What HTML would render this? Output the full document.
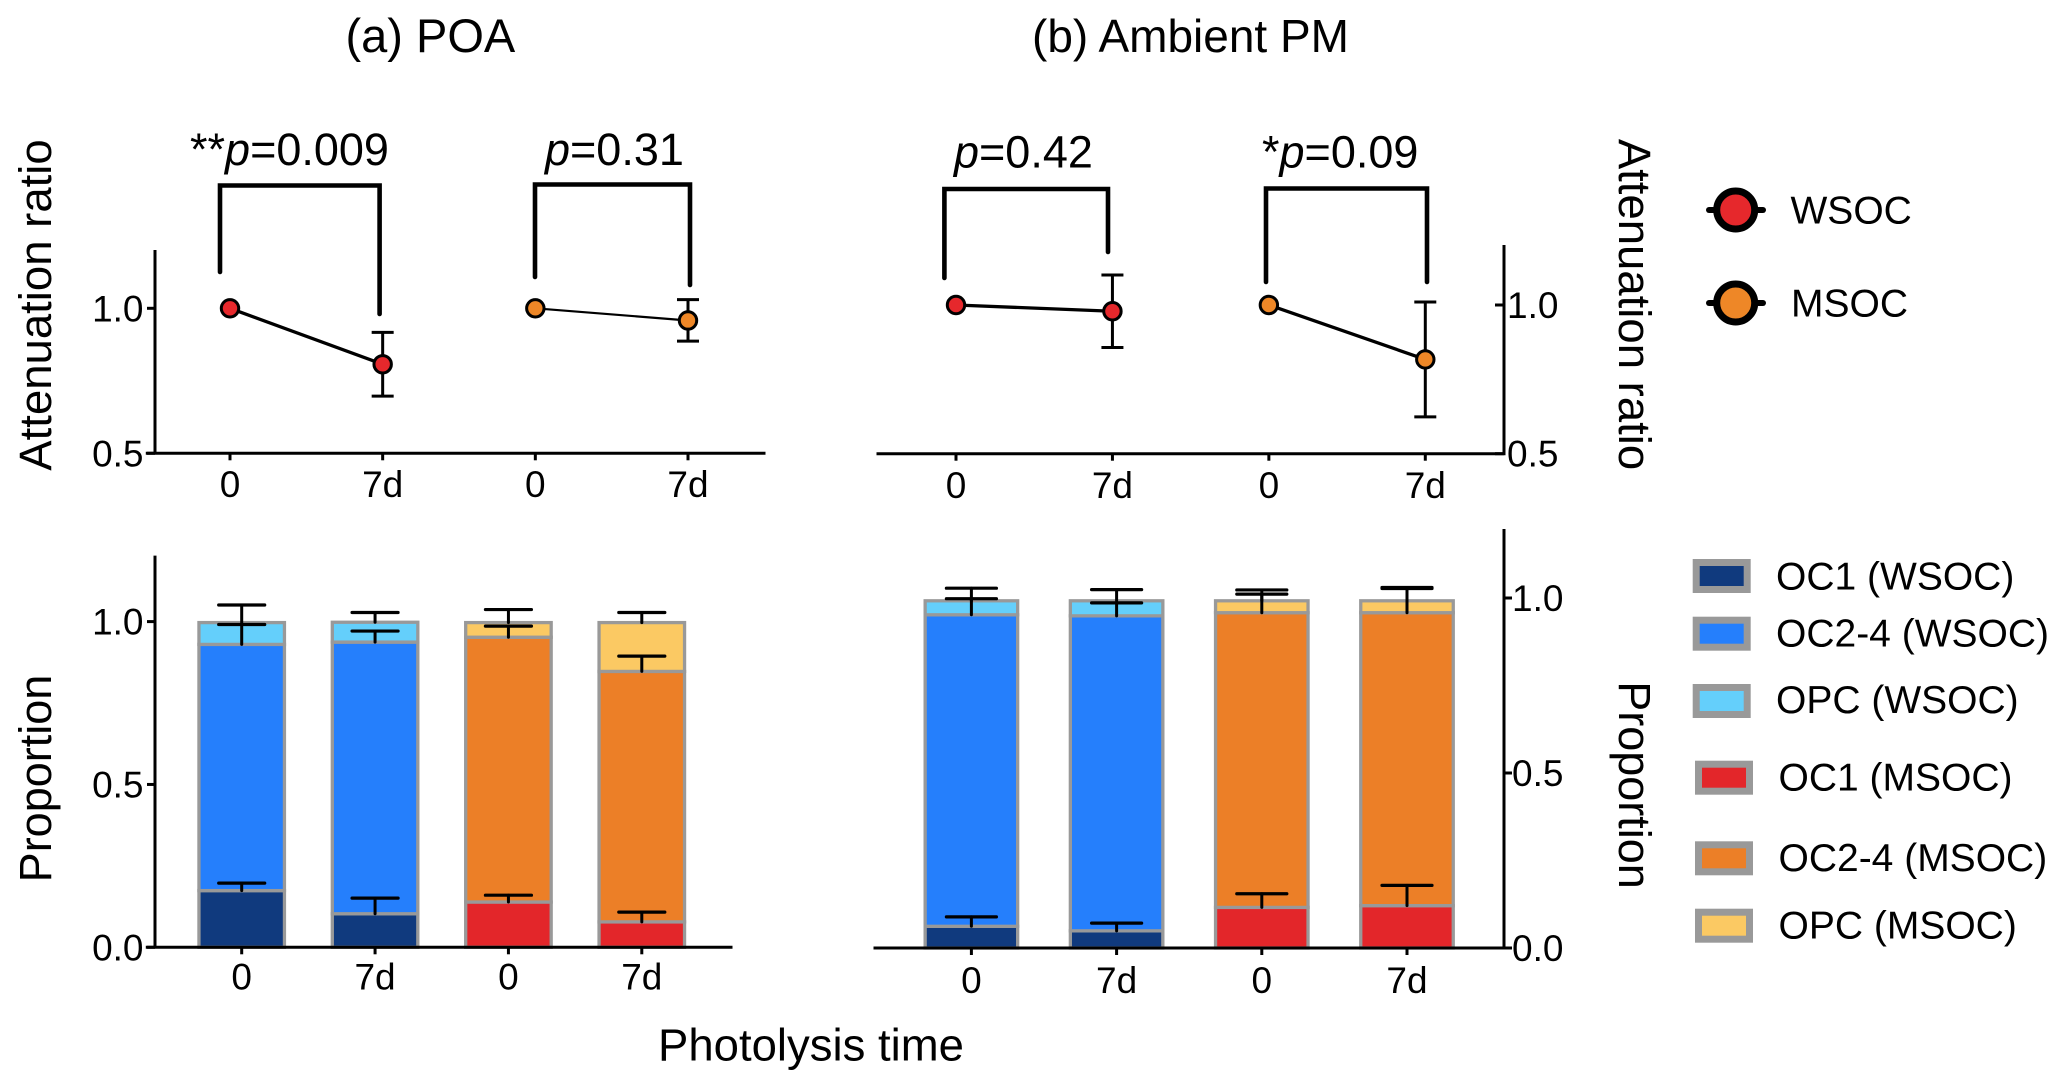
<!DOCTYPE html>
<html lang="en">
<head>
<meta charset="utf-8">
<title>Attenuation ratio and proportion: POA and ambient PM</title>
<style>
html,body{margin:0;padding:0;background:#fff;}
svg{display:block;position:absolute;left:0;top:0;}
text{font-family:"Liberation Sans",Arial,sans-serif;fill:#000;}
</style>
</head>
<body>
<svg id="chart" xmlns="http://www.w3.org/2000/svg" width="2067" height="1089" viewBox="0 0 2067 1089">
  <rect x="0" y="0" width="2067" height="1089" fill="#fff"/>
  <text x="345.5" y="52" font-size="47">(a) POA</text>
  <text x="1032" y="52" font-size="46">(b) Ambient PM</text>

  <g fill="none" stroke="#000" stroke-width="4.6" stroke-linecap="round" stroke-linejoin="miter">
    <path d="M220 272V185.5H379.6V314"/>
    <path d="M535 277V184.5H690V285"/>
    <path d="M944.4 278V189H1108V252"/>
    <path d="M1266 282V188.5H1427V282"/>
  </g>
  <text x="190" y="165" font-size="45">**<tspan font-style="italic">p</tspan>=0.009</text>
  <text x="545" y="165" font-size="45"><tspan font-style="italic">p</tspan>=0.31</text>
  <text x="954" y="167.5" font-size="45"><tspan font-style="italic">p</tspan>=0.42</text>
  <text x="1262" y="167.5" font-size="45">*<tspan font-style="italic">p</tspan>=0.09</text>

  <text text-anchor="middle" font-size="45.5" transform="translate(51 305) rotate(-90)">Attenuation ratio</text>
  <text text-anchor="middle" font-size="45" transform="translate(51 778.5) rotate(-90)">Proportion</text>
  <text text-anchor="middle" font-size="45.5" transform="translate(1619 304.5) rotate(90)">Attenuation ratio</text>
  <text text-anchor="middle" font-size="45" transform="translate(1619 785) rotate(90)">Proportion</text>
  <text x="658" y="1060.5" font-size="45.5">Photolysis time</text>

  <g>
    <g>
      <line x1="1709" x2="1763" y1="210" y2="210" stroke="#000" stroke-width="6" stroke-linecap="round"/>
      <circle cx="1735.7" cy="210" r="19" fill="#e6282c" stroke="#000" stroke-width="7"/>
      <text x="1790.5" y="223.3" font-size="39">WSOC</text>
    </g>
    <g>
      <line x1="1709" x2="1763" y1="303" y2="303" stroke="#000" stroke-width="6" stroke-linecap="round"/>
      <circle cx="1735.7" cy="303" r="19" fill="#ee8727" stroke="#000" stroke-width="7"/>
      <text x="1791" y="316.7" font-size="39">MSOC</text>
    </g>
  </g>

  <g stroke="#999" stroke-width="7">
    <rect x="1696.2" y="562.5" width="51" height="27" fill="#103a7e"/>
    <rect x="1696.2" y="620.2" width="51" height="27" fill="#257ffc"/>
    <rect x="1696.2" y="687.5" width="51" height="27" fill="#64cffb"/>
    <rect x="1698.5" y="764.2" width="51" height="27" fill="#e3262a"/>
    <rect x="1698.5" y="844.8" width="51" height="27" fill="#ec7f27"/>
    <rect x="1698.5" y="912.2" width="51" height="27" fill="#fbc963"/>
  </g>
  <text x="1776" y="589.3" font-size="39">OC1 (WSOC)</text>
  <text x="1776" y="646.7" font-size="39">OC2-4 (WSOC)</text>
  <text x="1776" y="713" font-size="39">OPC (WSOC)</text>
  <text x="1778.5" y="790.7" font-size="39">OC1 (MSOC)</text>
  <text x="1778.5" y="871" font-size="39">OC2-4 (MSOC)</text>
  <text x="1778.5" y="938.3" font-size="39">OPC (MSOC)</text>
</svg>

<script>
// ---- Chart data ----
const timeLabels = ['0', '7d', '0', '7d'];
const ratioTickValues = [0.5, 1.0];
const ratioTickLabels = ['0.5', '1.0'];
const proportionTickValues = [0, 0.5, 1.0];
const proportionTickLabels = ['0.0', '0.5', '1.0'];

// Attenuation ratio: pairs are [t0, 7d]
const poaWsocRatio = [1.0, 0.807];
const poaWsocUpper = [null, 0.917];
const poaWsocLower = [null, 0.697];
const poaMsocRatio = [1.0, 0.958];
const poaMsocUpper = [null, 1.03];
const poaMsocLower = [null, 0.887];
const ambWsocRatio = [1.0, 0.979];
const ambWsocUpper = [null, 1.101];
const ambWsocLower = [null, 0.857];
const ambMsocRatio = [1.0, 0.817];
const ambMsocUpper = [null, 1.01];
const ambMsocLower = [null, 0.624];

// Stacked proportions: one value per bar
const poaOc1 = [0.174, 0.103, 0.139, 0.078];
const poaOc24 = [0.756, 0.834, 0.813, 0.769];
const poaOpc = [0.067, 0.061, 0.045, 0.150];
const poaOc1Err = [0.023, 0.048, 0.021, 0.030];
const poaOc24Err = [0.061, 0.034, 0.034, 0.047];
const poaOpcErr = [0.054, 0.030, 0.040, 0.031];

const ambOc1 = [0.062, 0.049, 0.116, 0.121];
const ambOc24 = [0.890, 0.900, 0.842, 0.837];
const ambOpc = [0.040, 0.043, 0.034, 0.034];
const ambOc1Err = [0.027, 0.022, 0.039, 0.058];
const ambOc24Err = [0.046, 0.037, 0.053, 0.069];
const ambOpcErr = [0.036, 0.032, 0.031, 0.038];

// ---- Drawing ----
const svg = document.getElementById('chart');
const NS = 'http://www.w3.org/2000/svg';

function make(tag, attrs, parent) {
  const el = document.createElementNS(NS, tag);
  for (const k in attrs) el.setAttribute(k, attrs[k]);
  parent.appendChild(el);
  return el;
}
function linear(d0, d1, r0, r1) {
  return function (v) { return r0 + (v - d0) * (r1 - r0) / (d1 - d0); };
}
function tag(el, name) {
  
  
  return el;
}
function band(centerFirst, centerLast, n) {
  return function (i) { return centerFirst + i * (centerLast - centerFirst) / (n - 1); };
}

function drawAxes(p, yTicks, yLabels, parent) {
  const black = {stroke: '#000', 'stroke-width': 3};
  tag(make('line', Object.assign({x1: p.xStart, x2: p.xEnd, y1: p.y0, y2: p.y0, 'stroke-linecap': 'square'}, black), parent), 'x-axis-line');
  tag(make('line', Object.assign({x1: p.axisX, x2: p.axisX, y1: p.yTop, y2: p.y0}, black), parent), 'y-axis-line');
  yTicks.forEach(function (v, i) {
    const y = p.y(v);
    tag(make('line', Object.assign({x1: p.axisX + p.tickDir * p.yTickLen, x2: p.axisX, y1: y, y2: y}, black), parent), 'y-tick');
    const t = make('text', {x: p.labelX, y: y + 13, 'font-size': 37, 'text-anchor': p.labelAnchor}, parent);
    t.textContent = yLabels[i];
    tag(t, 'y-tick-label');
  });
  timeLabels.forEach(function (lab, i) {
    const x = p.x(i);
    tag(make('line', Object.assign({x1: x, x2: x, y1: p.y0, y2: p.y0 + 7}, black), parent), 'x-tick');
    const t = make('text', {x: x, y: p.xLabelY, 'font-size': 37, 'text-anchor': 'middle'}, parent);
    t.textContent = lab;
    tag(t, 'x-tick-label');
  });
}

function drawRatioPair(p, i0, vals, upper, lower, fill, width, name, parent) {
  const g = tag(make('g', {}, parent), name);
  tag(make('line', {x1: p.x(i0), x2: p.x(i0 + 1), y1: p.y(vals[0]), y2: p.y(vals[1]), stroke: '#000', 'stroke-width': width}, g), 'series-line');
  vals.forEach(function (v, j) {
    const x = p.x(i0 + j);
    if (upper[j] !== null) {
      tag(make('line', {x1: x, x2: x, y1: p.y(upper[j]), y2: p.y(lower[j]), stroke: '#000', 'stroke-width': 3}, g), 'error-bar');
      tag(make('line', {x1: x - 11, x2: x + 11, y1: p.y(upper[j]), y2: p.y(upper[j]), stroke: '#000', 'stroke-width': 3}, g), 'error-cap-upper');
      tag(make('line', {x1: x - 11, x2: x + 11, y1: p.y(lower[j]), y2: p.y(lower[j]), stroke: '#000', 'stroke-width': 3}, g), 'error-cap-lower');
    }
    tag(make('circle', {cx: x, cy: p.y(v), r: 8.7, fill: fill, stroke: '#000', 'stroke-width': 3}, g), 'data-point');
  });
}

function drawStack(p, oc1, oc24, opc, e1, e2, e3, parent) {
  const bars = tag(make('g', {}, parent), 'stacked-bars');
  const errs = tag(make('g', {}, parent), 'stacked-error-bars');
  const wsoc = ['#103a7e', '#257ffc', '#64cffb'];
  const msoc = ['#e3262a', '#ec7f27', '#fbc963'];
  const segNames = ['segment-oc1', 'segment-oc2-4', 'segment-opc'];
  timeLabels.forEach(function (lab, i) {
    const colours = i < 2 ? wsoc : msoc;
    const parts = [oc1[i], oc24[i], opc[i]];
    const errors = [e1[i], e2[i], e3[i]];
    const cx = p.x(i);
    let base = 0;
    parts.forEach(function (v, k) {
      const top = base + v;
      const yTop = p.y(top);
      const yBase = p.y(base);
      const r = make('rect', {x: cx - p.barW / 2, y: yTop, width: p.barW, height: yBase - yTop, fill: colours[k], stroke: '#999', 'stroke-width': 3.3}, bars);
      tag(r, segNames[k]);
      const yCap = p.y(top + errors[k]);
      tag(make('line', {x1: cx, x2: cx, y1: yTop, y2: yCap, stroke: '#000', 'stroke-width': 3, 'stroke-linecap': 'round'}, errs), 'error-stem');
      tag(make('line', {x1: cx - p.capW / 2, x2: cx + p.capW / 2, y1: yCap, y2: yCap, stroke: '#000', 'stroke-width': 3.2, 'stroke-linecap': 'round'}, errs), 'error-cap');
      base = top;
    });
  });
}

const panelA1 = {xStart: 147.3, xEnd: 764, axisX: 155, yTop: 250, y0: 453.3, tickDir: -1, yTickLen: 8,
  labelX: 143.5, labelAnchor: 'end', xLabelY: 497,
  x: band(230, 688, 4), y: linear(0.5, 1.0, 453.3, 308.3)};
const panelB1 = {xStart: 878, xEnd: 1504, axisX: 1504, yTop: 245, y0: 453.7, tickDir: -1, yTickLen: 9,
  labelX: 1507, labelAnchor: 'start', xLabelY: 498,
  x: band(956, 1425.3, 4), y: linear(0.5, 1.0, 453.7, 305)};
const panelA2 = {xStart: 147.3, xEnd: 731, axisX: 155, yTop: 555.6, y0: 947.3, tickDir: -1, yTickLen: 8,
  labelX: 143.5, labelAnchor: 'end', xLabelY: 989.3, barW: 85.5, capW: 46,
  x: band(241.7, 641.8, 4), y: linear(0, 1.0, 947.3, 621.6)};
const panelB2 = {xStart: 875, xEnd: 1504, axisX: 1504, yTop: 529, y0: 948, tickDir: 1, yTickLen: 8,
  labelX: 1512, labelAnchor: 'start', xLabelY: 992.8, barW: 92.5, capW: 50,
  x: band(971.4, 1407, 4), y: linear(0, 1.0, 948, 598)};

const gA1 = tag(make('g', {}, svg), 'panel-poa-attenuation');
drawRatioPair(panelA1, 0, poaWsocRatio, poaWsocUpper, poaWsocLower, '#e6282c', 3.3, 'series-poa-wsoc', gA1);
drawRatioPair(panelA1, 2, poaMsocRatio, poaMsocUpper, poaMsocLower, '#ee8727', 2.2, 'series-poa-msoc', gA1);
drawAxes(panelA1, ratioTickValues, ratioTickLabels, gA1);

const gB1 = tag(make('g', {}, svg), 'panel-ambient-attenuation');
drawRatioPair(panelB1, 0, ambWsocRatio, ambWsocUpper, ambWsocLower, '#e6282c', 3.3, 'series-ambient-wsoc', gB1);
drawRatioPair(panelB1, 2, ambMsocRatio, ambMsocUpper, ambMsocLower, '#ee8727', 3.3, 'series-ambient-msoc', gB1);
drawAxes(panelB1, ratioTickValues, ratioTickLabels, gB1);

const gA2 = tag(make('g', {}, svg), 'panel-poa-proportion');
drawStack(panelA2, poaOc1, poaOc24, poaOpc, poaOc1Err, poaOc24Err, poaOpcErr, gA2);
drawAxes(panelA2, proportionTickValues, proportionTickLabels, gA2);

const gB2 = tag(make('g', {}, svg), 'panel-ambient-proportion');
drawStack(panelB2, ambOc1, ambOc24, ambOpc, ambOc1Err, ambOc24Err, ambOpcErr, gB2);
drawAxes(panelB2, proportionTickValues, proportionTickLabels, gB2);
</script>
</body>
</html>
